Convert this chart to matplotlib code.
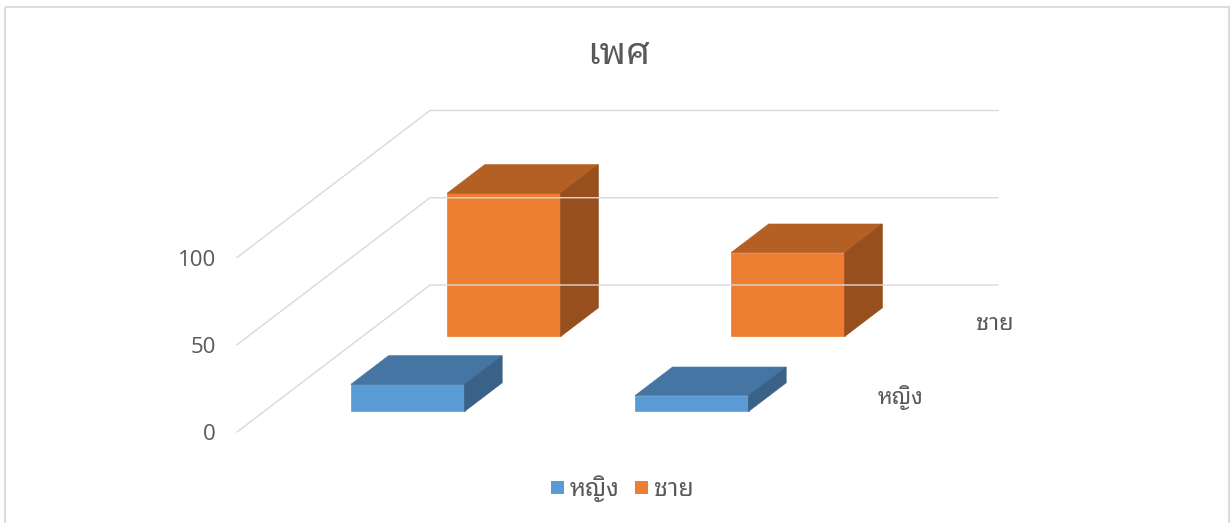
import matplotlib
matplotlib.use("Agg")
import matplotlib.pyplot as plt
from matplotlib.patches import Polygon, Rectangle

categories = ["1", "2"]
series_names = ["หญิง", "ชาย"]
title = "เพศ"
female = [15.5, 9]
male = [82, 48]
tick_values = [0, 50, 100]

plt.rcParams["font.family"] = ["Noto Sans Thai Looped", "Noto Sans Thai", "Noto Sans", "DejaVu Sans"]

W, H = 1231, 523
fig = plt.figure(figsize=(W / 100, H / 100), dpi=100)
ax = fig.add_axes([0, 0, 1, 1])
ax.set_xlim(0, W)
ax.set_ylim(H, 0)
ax.axis("off")

# oblique projection, origin is front left floor corner in pixels
X0, Y0 = 237, 432
CAT_W = 284
DEPTH_X, DEPTH_Y = 96.5, -73.5
UNIT = 1.745
TEXT = "#595959"
GRID = "#d9d9d9"


def project(cat, depth, val):
    return (X0 + cat * CAT_W + depth * DEPTH_X,
            Y0 + depth * DEPTH_Y - val * UNIT)


# figure border
ax.add_patch(Rectangle((4.5, 6.5), 1224.5, 530, fill=False, ec="#dcdcdc", lw=1.5))

# gridlines on side wall and back wall
n_cat = len(categories)
n_ser = len(series_names)
for v in tick_values:
    p0 = project(0, 0, v)
    p1 = project(0, n_ser, v)
    p2 = project(n_cat, n_ser, v)
    ax.plot([p0[0], p1[0], p2[0]], [p0[1], p1[1], p2[1]], color=GRID, lw=1)
    ax.text(p0[0] - 21, p0[1] + 3, str(v), ha="right", va="center", fontsize=16,
            color=TEXT, family=["Open Sans", "DejaVu Sans"])


def draw_bar(cat, ser, val, front, top, side):
    # small per series nudge, the original has a little perspective
    x0 = cat + 0.306 - 0.008 * ser
    x1 = x0 + 0.4
    d0 = ser * 1.02 + 0.28
    d1 = d0 + 0.39
    faces = [
        ([project(x0, d0, 0), project(x1, d0, 0), project(x1, d0, val), project(x0, d0, val)], front),
        ([project(x0, d0, val), project(x1, d0, val), project(x1, d1, val), project(x0, d1, val)], top),
        ([project(x1, d0, 0), project(x1, d1, 0), project(x1, d1, val), project(x1, d0, val)], side),
    ]
    for pts, col in faces:
        ax.add_patch(Polygon(pts, fc=col, ec=col, lw=0.5))


for i in range(n_cat):
    draw_bar(i, 1, male[i], "#ed7d31", "#b45f23", "#964f1d")
for i in range(n_cat):
    draw_bar(i, 0, female[i], "#5b9bd5", "#4575a2", "#3a6287")

ax.text(619, 54, title, ha="center", va="center", fontsize=27, color=TEXT)
ax.text(995, 324, series_names[1], ha="center", va="center", fontsize=17, color=TEXT)
ax.text(901, 398, series_names[0], ha="center", va="center", fontsize=16, color=TEXT)

# legend
ax.add_patch(Rectangle((551, 481), 13, 13, fc="#5b9bd5", ec="none"))
ax.text(570, 489, series_names[0], ha="left", va="center", fontsize=17.5, color=TEXT)
ax.add_patch(Rectangle((635, 481), 13, 13, fc="#ed7d31", ec="none"))
ax.text(654, 489, series_names[1], ha="left", va="center", fontsize=18, color=TEXT)

fig.savefig("out.png", dpi=100)
